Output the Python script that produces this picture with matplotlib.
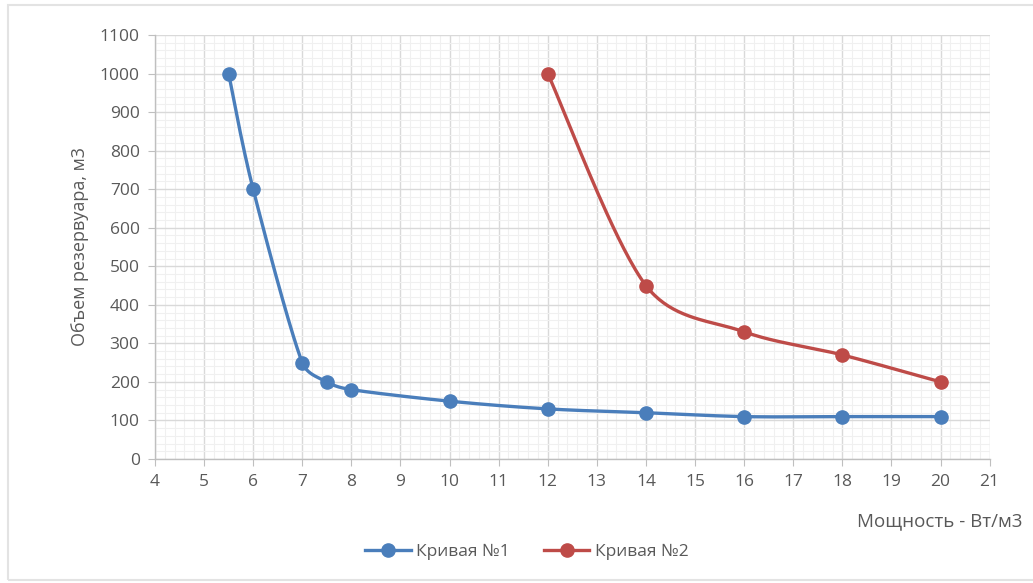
import numpy as np
import matplotlib
matplotlib.use("Agg")
import matplotlib.pyplot as plt
from matplotlib.ticker import MultipleLocator
from matplotlib.patches import Rectangle

plt.rcParams['font.family'] = ['Open Sans', 'DejaVu Sans']

# Series data
curve1_x = [5.5, 6, 7, 7.5, 8, 10, 12, 14, 16, 18, 20]
curve1_y = [1000, 700, 250, 200, 180, 150, 130, 120, 110, 110, 110]
curve2_x = [12, 14, 16, 18, 20]
curve2_y = [1000, 450, 330, 270, 200]
series_names = ["Кривая №1", "Кривая №2"]

x_label = "Мощность - Вт/м3"
y_label = "Объем резервуара, м3"

BLUE = "#4A7EBB"
RED = "#BE4B48"
TEXT = "#595959"

XLIM = (4, 21)
YLIM = (0, 1100)
AX_RECT = [0.150, 0.2127, 0.808, 0.7273]
FIG_W, FIG_H = 1033, 583


def smooth(xs, ys, n=40, limit=0.4):
    """Cubic Bezier smoothing through every point (Catmull-Rom handles of 1/6
    of the neighbour chord, each clipped to a share of its own segment)."""
    sx = AX_RECT[2] * FIG_W / (XLIM[1] - XLIM[0])
    sy = AX_RECT[3] * FIG_H / (YLIM[1] - YLIM[0])
    p = np.column_stack([np.asarray(xs, float) * sx, np.asarray(ys, float) * sy])
    ext = np.vstack([p[0], p, p[-1]])
    d = np.linalg.norm(np.diff(p, axis=0), axis=1)

    def clip(h, seg_len):
        L = np.linalg.norm(h)
        cap = limit * seg_len
        return h * (cap / L) if L > cap else h

    t = np.linspace(0, 1, n)[1:, None]
    out = [p[0]]
    for i in range(len(p) - 1):
        p0, p3 = ext[i + 1], ext[i + 2]
        h1 = clip((ext[i + 2] - ext[i]) / 6.0, d[i])
        h2 = clip((ext[i + 3] - ext[i + 1]) / 6.0, d[i])
        c1, c2 = p0 + h1, p3 - h2
        seg = ((1 - t) ** 3) * p0 + 3 * ((1 - t) ** 2) * t * c1 + 3 * (1 - t) * t ** 2 * c2 + t ** 3 * p3
        out.extend(seg)
    out = np.array(out)
    return out[:, 0] / sx, out[:, 1] / sy


fig = plt.figure(figsize=(FIG_W / 100, FIG_H / 100), dpi=100)
ax = fig.add_axes(AX_RECT)

# light frame around the chart
fig.patches.append(Rectangle((0.008, 0.005), 0.995, 0.987, transform=fig.transFigure,
                             fill=False, edgecolor="#E3E3E3", linewidth=1.5))

for xs, ys, col, name in [(curve1_x, curve1_y, BLUE, series_names[0]),
                          (curve2_x, curve2_y, RED, series_names[1])]:
    sx, sy = smooth(xs, ys)
    ax.plot(sx, sy, color=col, linewidth=2.4, solid_capstyle="round", zorder=3)
    ax.plot(xs, ys, linestyle="none", marker="o", markersize=9.5, color=col, zorder=4)
    ax.plot([], [], color=col, linewidth=2.4, marker="o", markersize=9.5, label=name)

ax.set_xlim(*XLIM)
ax.set_ylim(*YLIM)
ax.xaxis.set_major_locator(MultipleLocator(1))
ax.xaxis.set_minor_locator(MultipleLocator(0.2))
ax.yaxis.set_major_locator(MultipleLocator(100))
ax.yaxis.set_minor_locator(MultipleLocator(20))

ax.grid(which="major", color="#D9D9D9", linewidth=1.0, zorder=1)
ax.grid(which="minor", color="#F0F0F0", linewidth=0.8, zorder=0)
ax.set_axisbelow(True)

for side in ["top", "right"]:
    ax.spines[side].set_visible(False)
for side in ["left", "bottom"]:
    ax.spines[side].set_color("#BFBFBF")
    ax.spines[side].set_linewidth(1.0)

ax.tick_params(which="major", length=5, color="#BFBFBF", labelcolor=TEXT, labelsize=12.5, pad=6)
ax.tick_params(which="minor", length=0)

ax.set_ylabel(y_label, color=TEXT, fontsize=13, labelpad=8)
fig.text(0.990, 0.106, x_label, color=TEXT, fontsize=13.5, ha="right", va="center")

leg = fig.legend(loc="center", bbox_to_anchor=(0.51, 0.053), ncol=2, frameon=False,
                 fontsize=12.5, handlelength=2.6, columnspacing=2.0, handletextpad=0.3)
for t in leg.get_texts():
    t.set_color(TEXT)

fig.savefig("out.png", dpi=100)
